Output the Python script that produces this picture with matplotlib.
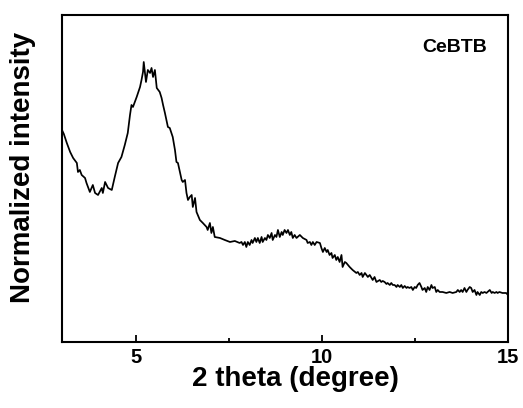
import matplotlib
matplotlib.use("Agg")
import matplotlib.pyplot as plt
from matplotlib.ticker import MultipleLocator

plt.rcParams['font.family'] = ['Liberation Sans', 'DejaVu Sans']

# 2 theta (degree)
two_theta = [
    3.00, 3.05, 3.13, 3.22, 3.30, 3.40, 3.43, 3.48, 3.53, 3.62, 3.66, 3.70, 3.75,
    3.83, 3.89, 3.97, 4.07, 4.10, 4.16, 4.24, 4.34, 4.42, 4.51, 4.60, 4.69, 4.77,
    4.83, 4.87, 4.91, 5.01, 5.10, 5.14, 5.18, 5.20, 5.26, 5.31, 5.37, 5.41, 5.45,
    5.50, 5.55, 5.63, 5.68, 5.72, 5.77, 5.81, 5.85, 5.90, 5.98, 6.04, 6.08, 6.12,
    6.22, 6.25, 6.31, 6.35, 6.39, 6.44, 6.49, 6.52, 6.58, 6.62, 6.71, 6.79, 6.89,
    6.92, 6.98, 7.02, 7.06, 7.11, 7.25, 7.38, 7.52, 7.65, 7.78, 7.83, 7.87, 7.92,
    7.96, 8.00, 8.05, 8.10, 8.13, 8.19, 8.23, 8.27, 8.32, 8.37, 8.40, 8.46, 8.50,
    8.54, 8.59, 8.64, 8.67, 8.73, 8.77, 8.81, 8.86, 8.91, 8.94, 8.99, 9.04, 9.08,
    9.13, 9.17, 9.21, 9.26, 9.31, 9.34, 9.40, 9.48, 9.58, 9.61, 9.67, 9.71, 9.75,
    9.80, 9.85, 9.94, 9.98, 10.02, 10.07, 10.12, 10.15, 10.20, 10.25, 10.28, 10.34,
    10.38, 10.42, 10.47, 10.52, 10.55, 10.61, 10.65, 10.74, 10.82, 10.92, 10.96,
    11.01, 11.06, 11.09, 11.15, 11.23, 11.28, 11.33, 11.36, 11.41, 11.46, 11.55,
    11.59, 11.63, 11.68, 11.73, 11.76, 11.82, 11.86, 11.90, 11.95, 12.00, 12.03,
    12.09, 12.13, 12.17, 12.22, 12.27, 12.30, 12.35, 12.40, 12.44, 12.49, 12.53,
    12.57, 12.62, 12.67, 12.70, 12.76, 12.80, 12.84, 12.89, 12.94, 12.97, 13.03,
    13.07, 13.11, 13.16, 13.24, 13.34, 13.43, 13.51, 13.61, 13.65, 13.70, 13.74,
    13.78, 13.83, 13.88, 13.91, 13.97, 14.01, 14.05, 14.10, 14.15, 14.18, 14.24,
    14.28, 14.32, 14.37, 14.42, 14.45, 14.51, 14.56, 14.59, 14.64, 14.69, 14.72,
    14.77, 14.85, 14.95, 15.00,
]

# intensity (a.u.)
intensity = [
    212, 208, 199, 190, 184, 179, 170, 172, 167, 164, 159, 155, 150,
    157, 149, 147, 154, 149, 160, 154, 152, 165, 179, 185, 197, 209,
    227, 237, 235, 245, 255, 262, 270, 280, 260, 272, 269, 274, 265,
    272, 254, 250, 244, 237, 229, 222, 215, 214, 205, 192, 180, 179,
    162, 160, 162, 149, 142, 145, 147, 135, 144, 130, 122, 119, 115,
    112, 119, 109, 115, 105, 104, 102, 100, 101, 99, 100, 97, 100,
    95, 100, 97, 102, 99, 104, 100, 104, 99, 105, 100, 104, 102,
    107, 104, 109, 102, 107, 105, 112, 105, 110, 107, 112, 109, 112,
    107, 110, 104, 107, 104, 105, 107, 104, 102, 99, 100, 97, 100,
    97, 100, 99, 94, 90, 94, 90, 92, 87, 89, 84, 87,
    82, 85, 80, 87, 75, 80, 79, 75, 72, 69, 70,
    67, 69, 65, 69, 65, 67, 64, 62, 65, 60, 62,
    60, 61, 60, 58, 59, 57, 59, 57, 57, 55, 57,
    55, 57, 54, 56, 54, 55, 54, 55, 52, 55, 54,
    57, 59, 55, 52, 54, 50, 55, 52, 57, 54, 55,
    50, 52, 50, 50, 49, 50, 49, 50, 52, 50, 52,
    50, 54, 50, 52, 55, 54, 50, 52, 47, 50, 47,
    50, 49, 50, 49, 50, 52, 49, 50, 49, 50, 49,
    50, 49, 49, 47,
]

sample = "CeBTB"
xticks = [5, 10, 15]

fig = plt.figure(figsize=(5.23, 4.08), dpi=100)
ax = fig.add_axes([0.1185, 0.1618, 0.8528, 0.8015])

ax.plot(two_theta, intensity, color='black', linewidth=1.25)

ax.set_xlim(3, 15)
ax.set_ylim(0, 327)
ax.set_xticks(xticks)
ax.xaxis.set_minor_locator(MultipleLocator(2.5))
ax.set_yticks([])

ax.tick_params(axis='x', which='major', direction='in', length=5, width=1.3,
               labelsize=14.5, pad=4)
ax.tick_params(axis='x', which='minor', direction='in', length=3, width=1.3)
for lab in ax.get_xticklabels():
    lab.set_fontweight('bold')
for sp in ax.spines.values():
    sp.set_linewidth(1.5)

ax.text(0.953, 0.902, sample, transform=ax.transAxes, ha='right', va='center',
        fontsize=14, fontweight='bold')

fig.text(0.564, 0.072, "2 theta (degree)", ha='center', va='center',
         fontsize=20, fontweight='bold')
fig.text(0.044, 0.59, "Normalized intensity", ha='center', va='center',
         rotation=90, fontsize=20, fontweight='bold')

fig.savefig("out.png", dpi=100)
